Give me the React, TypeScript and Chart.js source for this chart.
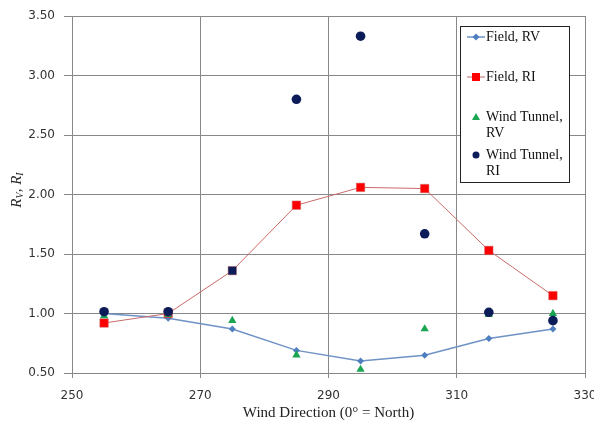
import React, { useEffect, useRef } from "react";
import { Chart, registerables } from "chart.js";

Chart.register(...registerables);

// ---- data ----
const directions = [255, 265, 275, 285, 295, 305, 315, 325];
const fieldRV = [1.0, 0.96, 0.87, 0.69, 0.6, 0.65, 0.79, 0.87];
const fieldRI = [0.92, 1.0, 1.36, 1.91, 2.06, 2.05, 1.53, 1.15];
const tunnelRV = [0.98, 0.99, 0.94, 0.65, 0.53, 0.87, 0.99, 1.0];
const tunnelRI = [1.015, 1.015, null, 2.8, 3.33, 1.67, 1.01, 0.94];
const xTickValues = [250, 270, 290, 310, 330];
const yTickValues = [0.5, 1.0, 1.5, 2.0, 2.5, 3.0, 3.5];
const xTitle = "Wind Direction (0\u00b0 = North)";
const legendLabels = [["Field, RV"], ["Field, RI"], ["Wind Tunnel,", "RV"], ["Wind Tunnel,", "RI"]];

const BLUE = "#4F7FBF";
const BLUE_LINE = "#6E92C6";
const RED = "#FF0000";
const RED_LINE = "#C86A6A";
const GREEN = "#1AA553";
const NAVY = "#0C1C58";
const GRID = "#888888";

const toXY = (ys: (number | null)[]) => directions.map((x, i) => ({ x, y: ys[i] }));

const extrasPlugin = {
  id: "extras",
  afterDraw(chart: any) {
    const ctx: CanvasRenderingContext2D = chart.ctx;
    ctx.save();
    // Y axis title: R_V, R_I
    ctx.translate(17, 190);
    ctx.rotate(-Math.PI / 2);
    const big = "italic 15px 'Liberation Serif', serif";
    const small = "italic 10px 'Liberation Serif', serif";
    const parts: [string, string, number][] = [
      ["R", big, 0],
      ["V", small, 3],
      [", ", big, 0],
      ["R", big, 0],
      ["I", small, 3],
    ];
    let total = 0;
    parts.forEach(([t, f]) => {
      ctx.font = f;
      total += ctx.measureText(t).width;
    });
    let px = -total / 2;
    ctx.fillStyle = "#222";
    ctx.textBaseline = "middle";
    parts.forEach(([t, f, dy]) => {
      ctx.font = f;
      ctx.fillText(t, px, dy);
      px += ctx.measureText(t).width;
    });
    ctx.restore();

    // Legend box
    ctx.save();
    const bx = 460, by = 26, bw = 109, bh = 156;
    ctx.fillStyle = "#fff";
    ctx.fillRect(bx, by, bw, bh);
    ctx.strokeStyle = "#222";
    ctx.lineWidth = 1;
    ctx.strokeRect(bx + 0.5, by + 0.5, bw, bh);
    ctx.font = "14px 'Liberation Serif', serif";
    ctx.fillStyle = "#111";
    ctx.textBaseline = "middle";
    const rows = [37, 77, 117, 155];
    const mx = 476;
    rows.forEach((ry, i) => {
      if (i === 0) {
        ctx.strokeStyle = BLUE_LINE;
        ctx.lineWidth = 1.5;
        ctx.beginPath();
        ctx.moveTo(467, ry);
        ctx.lineTo(485, ry);
        ctx.stroke();
        ctx.fillStyle = BLUE;
        ctx.beginPath();
        ctx.moveTo(mx, ry - 3.5);
        ctx.lineTo(mx + 3.5, ry);
        ctx.lineTo(mx, ry + 3.5);
        ctx.lineTo(mx - 3.5, ry);
        ctx.closePath();
        ctx.fill();
      } else if (i === 1) {
        ctx.strokeStyle = RED_LINE;
        ctx.lineWidth = 1;
        ctx.beginPath();
        ctx.moveTo(467, ry);
        ctx.lineTo(485, ry);
        ctx.stroke();
        ctx.fillStyle = RED;
        ctx.fillRect(mx - 4, ry - 4, 8, 8);
      } else if (i === 2) {
        ctx.fillStyle = GREEN;
        ctx.beginPath();
        ctx.moveTo(mx, ry - 4);
        ctx.lineTo(mx + 4, ry + 3);
        ctx.lineTo(mx - 4, ry + 3);
        ctx.closePath();
        ctx.fill();
      } else {
        ctx.fillStyle = NAVY;
        ctx.beginPath();
        ctx.arc(mx, ry, 3.5, 0, Math.PI * 2);
        ctx.fill();
      }
      ctx.fillStyle = "#111";
      legendLabels[i].forEach((line, j) => {
        ctx.fillText(line, 486, ry + j * 16);
      });
    });
    ctx.restore();
  },
};

export default function App() {
  const ref = useRef<HTMLCanvasElement | null>(null);

  useEffect(() => {
    if (!ref.current) return;
    const tickFont = { family: "'DejaVu Sans', sans-serif", size: 12 };
    const chart = new Chart(ref.current, {
      type: "line",
      data: {
        datasets: [
          {
            label: "Wind Tunnel, RI",
            data: toXY(tunnelRI),
            showLine: false,
            pointStyle: "circle",
            pointRadius: 4.8,
            backgroundColor: NAVY,
            borderColor: NAVY,
            borderWidth: 0,
            order: 0,
          },
          {
            label: "Wind Tunnel, RV",
            data: toXY(tunnelRV),
            showLine: false,
            pointStyle: "triangle",
            pointRadius: 4.8,
            backgroundColor: GREEN,
            borderColor: GREEN,
            borderWidth: 0,
            order: 1,
          },
          {
            label: "Field, RI",
            data: toXY(fieldRI),
            pointStyle: "rect",
            pointRadius: 6,
            pointBackgroundColor: directions.map((d) => (d === 275 ? NAVY : RED)),
            pointBorderColor: RED_LINE,
            pointBorderWidth: 0.5,
            borderColor: RED_LINE,
            borderWidth: 1,
            tension: 0,
            order: 2,
          },
          {
            label: "Field, RV",
            data: toXY(fieldRV),
            pointStyle: "rectRot",
            pointRadius: 3.5,
            pointBackgroundColor: BLUE,
            pointBorderColor: BLUE,
            pointBorderWidth: 0,
            borderColor: BLUE_LINE,
            borderWidth: 1.5,
            tension: 0,
            order: 3,
          },
        ],
      },
      options: {
        animation: false,
        responsive: false,
        layout: { padding: { left: 0, top: 16, right: 9, bottom: 0 } },
        plugins: { legend: { display: false }, tooltip: { enabled: false } },
        scales: {
          x: {
            type: "linear",
            min: 250,
            max: 330,
            afterBuildTicks: (scale: any) => {
              scale.ticks = xTickValues.map((v) => ({ value: v }));
            },
            afterFit: (scale: any) => {
              scale.height = 50;
              scale.paddingLeft = 0;
              scale.paddingRight = 0;
            },
            ticks: {
              font: tickFont,
              color: "#333333",
              padding: 11,
              maxRotation: 0,
              callback: (v: any) => String(v),
            },
            grid: { color: GRID, lineWidth: 1, tickLength: 5 },
            border: { color: GRID, width: 1 },
            title: {
              display: true,
              text: xTitle,
              font: { family: "'Liberation Serif', serif", size: 15 },
              color: "#222",
              padding: { top: 0, bottom: 1 },
            },
          },
          y: {
            min: 0.5,
            max: 3.5,
            afterBuildTicks: (scale: any) => {
              scale.ticks = yTickValues.map((v) => ({ value: v }));
            },
            afterFit: (scale: any) => {
              scale.width = 72;
              scale.paddingTop = 0;
              scale.paddingBottom = 0;
            },
            ticks: {
              font: tickFont,
              color: "#333333",
              padding: 9,
              callback: (v: any) => Number(v).toFixed(2),
            },
            grid: { color: GRID, lineWidth: 1, tickLength: 8 },
            border: { color: GRID, width: 1 },
          },
        },
      },
      plugins: [extrasPlugin],
    } as any);
    return () => chart.destroy();
  }, []);

  return (
    <div style={{ position: "fixed", left: 0, top: 0, width: 594, height: 423, background: "#fff" }}>
      <canvas ref={ref} width={594} height={423} style={{ display: "block" }} />
    </div>
  );
}
